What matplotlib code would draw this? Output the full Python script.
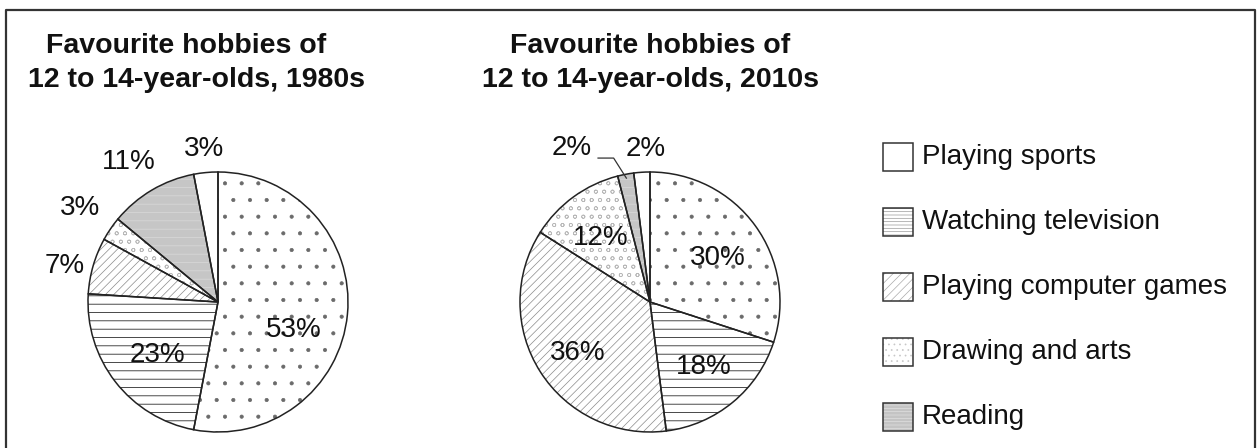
import numpy as np
import matplotlib
matplotlib.use("Agg")
import matplotlib.pyplot as plt
from matplotlib.patches import Rectangle

plt.rcParams['font.family'] = ['Liberation Sans', 'DejaVu Sans']
plt.rcParams['hatch.linewidth'] = 0.5

# slices in clockwise order from 12 o'clock
slices = ['Dotted (no legend)', 'Watching television', 'Playing computer games',
          'Drawing and arts', 'Reading', 'Playing sports']
values_1980s = [53, 23, 7, 3, 11, 3]
values_2010s = [30, 18, 36, 12, 2, 2]
labels_1980s = ['53%', '23%', '7%', '3%', '11%', '3%']
labels_2010s = ['30%', '18%', '36%', '12%', '2%', '2%']
legend_items = ['Playing sports', 'Watching television', 'Playing computer games',
                'Drawing and arts', 'Reading']
titles = ['Favourite hobbies of\n12 to 14-year-olds, 1980s',
          'Favourite hobbies of\n12 to 14-year-olds, 2010s']

# fill, hatch, hatch colour for each slice
style = {
    'Dotted (no legend)': ('white', '.', '#6a6a6a'),
    'Watching television': ('white', '--', 'black'),
    'Playing computer games': ('white', '////', '#8a8a8a'),
    'Drawing and arts': ('white', 'oo', '#b8b8b8'),
    'Reading': ('#c6c6c6', '--', '#dadada'),
    'Playing sports': ('white', '', 'white'),
}

# label placement: (distance from centre, angle nudge in degrees)
place_1980s = [(0.62, -15), (0.62, 3), (1.21, 3), (1.28, 0), (1.28, 2), (1.18, 0)]
place_2010s = [(0.62, -3), (0.65, 0), (0.68, 3), (0.62, 2), (1.33, 16), (1.18, -2)]

W, H = 1258, 448
fig = plt.figure(figsize=(W / 100, H / 100), dpi=100)
fig.patch.set_facecolor('white')


def draw_pie(cx, cy, values, labels, place):
    half = 195
    ax = fig.add_axes([(cx - half) / W, (H - cy - half) / H, 2 * half / W, 2 * half / H])
    ax.axis('off')
    fills = [style[s][0] for s in slices]
    wedges, _ = ax.pie(values, startangle=90, counterclock=False, colors=fills,
                       wedgeprops=dict(linewidth=0))
    for w, s in zip(wedges, slices):
        w.set_hatch(style[s][1])
        w.set_edgecolor(style[s][2])
    # outlines on top
    ax.pie(values, startangle=90, counterclock=False,
           wedgeprops=dict(fill=False, edgecolor='#222222', linewidth=1.1))
    pos = []
    for w, lab, (d, nudge) in zip(wedges, labels, place):
        mid = np.deg2rad((w.theta1 + w.theta2) / 2 + nudge)
        x, y = d * np.cos(mid), d * np.sin(mid)
        ax.text(x, y, lab, ha='center', va='center', fontsize=20, color='#111111')
        pos.append((x, y, np.deg2rad((w.theta1 + w.theta2) / 2)))
    ax.set_xlim(-1.5, 1.5)
    ax.set_ylim(-1.5, 1.5)
    ax.set_aspect('equal')
    return ax, pos


ax1, _ = draw_pie(218, 302, values_1980s, labels_1980s, place_1980s)
ax2, pos2 = draw_pie(650, 302, values_2010s, labels_2010s, place_2010s)

# leader line for the small reading slice in 2010s
lx, ly, ang = pos2[4]
ax2.plot([lx + 0.2, lx + 0.32, 0.97 * np.cos(ang)],
         [ly - 0.08, ly - 0.08, 0.97 * np.sin(ang)], color='#333333', lw=0.9)

# overlay in pixel coordinates for titles, legend and frame
ov = fig.add_axes([0, 0, 1, 1])
ov.set_xlim(0, W)
ov.set_ylim(H, 0)
ov.axis('off')

title_x = [(186, 196), (650, 650)]
for t, (x1, x2) in zip(titles, title_x):
    line1, line2 = t.split('\n')
    ov.text(x1, 46, line1, ha='center', va='center', fontsize=20.5,
            fontweight='bold', color='#111111')
    ov.text(x2, 80, line2, ha='center', va='center', fontsize=20.5,
            fontweight='bold', color='#111111')

legend_style = {
    'Playing sports': ('white', '', 'white'),
    'Watching television': ('white', '-----', '#9a9a9a'),
    'Playing computer games': ('white', '////', '#aaaaaa'),
    'Drawing and arts': ('white', '...', '#c8c8c8'),
    'Reading': ('#c4c4c4', '-----', '#e0e0e0'),
}
for i, name in enumerate(legend_items):
    yc = 157 + 65 * i
    fc, hatch, hc = legend_style[name]
    ov.add_patch(Rectangle((883, yc - 14), 30, 28, facecolor=fc, hatch=hatch,
                           edgecolor=hc, linewidth=0))
    ov.add_patch(Rectangle((883, yc - 14), 30, 28, fill=False,
                           edgecolor='#333333', linewidth=1.1))
    ov.text(922, yc, name, ha='left', va='center', fontsize=20, color='#111111')

# frame open at the bottom
ov.plot([6, 6, 1255, 1255], [470, 10, 10, 470], color='#333333', lw=1.6,
        clip_on=False)

fig.savefig('out.png', dpi=100, facecolor='white')
